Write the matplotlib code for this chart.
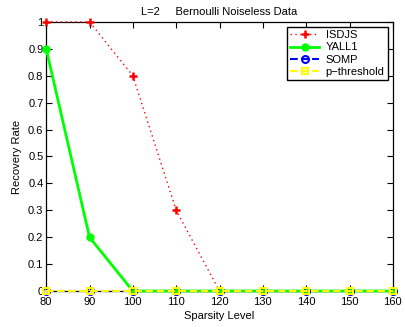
import matplotlib
matplotlib.use("Agg")
import matplotlib.pyplot as plt

plt.rcParams['font.family'] = ['Liberation Sans', 'DejaVu Sans']

sparsity = [80, 90, 100, 110, 120, 130, 140, 150, 160]
isdjs = [1.0, 1.0, 0.8, 0.3, 0.0, 0.0, 0.0, 0.0, 0.0]
yall1 = [0.9, 0.2, 0.0, 0.0, 0.0, 0.0, 0.0, 0.0, 0.0]
somp = [0.0, 0.0, 0.0, 0.0, 0.0, 0.0, 0.0, 0.0, 0.0]
pthr = [0.0, 0.0, 0.0, 0.0, 0.0, 0.0, 0.0, 0.0, 0.0]
yticks = [0, 0.1, 0.2, 0.3, 0.4, 0.5, 0.6, 0.7, 0.8, 0.9, 1]
ytlabels = ['0', '0.1', '0.2', '0.3', '0.4', '0.5', '0.6', '0.7', '0.8', '0.9', '1']

fig = plt.figure(figsize=(4.05, 3.27), dpi=100)
ax = fig.add_axes([0.114, 0.110, 0.856, 0.823])

ax.plot(sparsity, isdjs, color='red', linestyle=(0, (1, 2.5)), linewidth=1.0, marker='+',
        markersize=6, markeredgewidth=1.8, label='ISDJS', clip_on=False, zorder=3)
ax.plot(sparsity, yall1, color='#00ff00', linestyle='-', linewidth=2.0, marker='o',
        markersize=5, markerfacecolor='#00ff00', label='YALL1', clip_on=False, zorder=4)
ax.plot(sparsity, somp, color='blue', linestyle='--', linewidth=1.5, marker='o',
        markersize=5, markerfacecolor='none', markeredgewidth=1.5, label='SOMP', clip_on=False, zorder=5)
ax.plot(sparsity, pthr, color='yellow', linestyle='--', linewidth=1.5, marker='s',
        markersize=5, markerfacecolor='none', markeredgewidth=1.5, label='p\u2212threshold', clip_on=False, zorder=6)

ax.set_xlim(80, 160)
ax.set_ylim(0, 1)
ax.set_xticks(sparsity)
ax.set_yticks(yticks)
ax.set_yticklabels(ytlabels)
ax.tick_params(direction='in', top=True, right=True, labelsize=8, length=4, width=0.8)
ax.tick_params(axis='x', pad=4)
ax.tick_params(axis='y', pad=2)
for s in ax.spines.values():
    s.set_linewidth(0.9)
ax.set_xlabel('Sparsity Level', fontsize=8, labelpad=3)
ax.set_ylabel('Recovery Rate', fontsize=8, labelpad=4)
ax.set_title('L=2     Bernoulli Noiseless Data', fontsize=8, pad=5)

leg = ax.legend(loc='upper right', fontsize=8, fancybox=False, framealpha=1,
                edgecolor='black', borderaxespad=0.45, handlelength=2.6,
                labelspacing=0.2, borderpad=0.3, handletextpad=0.6)
leg.get_frame().set_linewidth(1.0)

fig.savefig('out.png', dpi=100)
